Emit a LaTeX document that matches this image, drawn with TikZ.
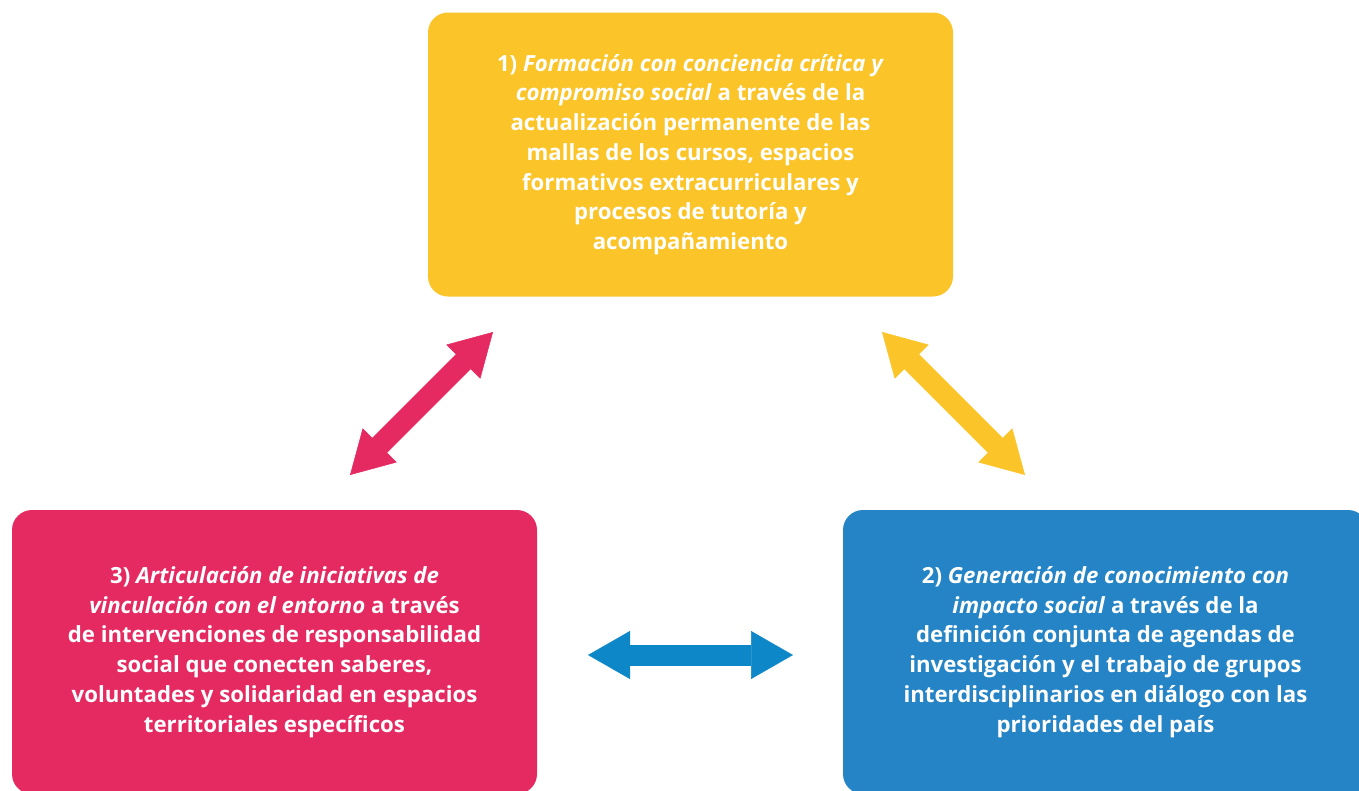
\documentclass[tikz,border=0pt]{standalone}
\usepackage{fontspec}
\setmainfont{Open Sans}
\usetikzlibrary{arrows.meta}
\definecolor{yel}{HTML}{FBC52A}
\definecolor{red}{HTML}{E52A62}
\definecolor{blu}{HTML}{2484C6}
\definecolor{bluarrow}{HTML}{0E87C8}
\tikzset{
  box/.style={rounded corners=20pt, minimum width=525pt, minimum height=284pt,
    text=white, align=center, font=\fontsize{22.2}{29.7}\selectfont\bfseries, inner sep=0pt},
  dbl/.style={line width=21pt,
    {Triangle[length=42pt,width=48pt,line width=0.5pt]}-{Triangle[length=42pt,width=48pt,line width=0.5pt]}}
}
\begin{document}
\begin{tikzpicture}[x=1pt,y=-1pt]
\useasboundingbox (0,0) rectangle (1359,790);
\clip (0,0) rectangle (1359,790);
\node[box, fill=yel] (f) at (690.5,154.5) {1) \textit{Formación con conciencia crítica y}\\
\textit{compromiso social} a través de la\\
actualización permanente de las\\
mallas de los cursos, espacios\\
formativos extracurriculares y\\
procesos de tutoría y\\
acompañamiento};
\node[box, fill=red] (v) at (274.5,652) {3) \textit{Articulación de iniciativas de}\\
\textit{vinculación con el entorno} a través\\
de intervenciones de responsabilidad\\
social que conecten saberes,\\
voluntades y solidaridad en espacios\\
territoriales específicos};
\node[box, fill=blu] (g) at (1105.5,652) {2) \textit{Generación de conocimiento con}\\
\textit{impacto social} a través de la\\
definición conjunta de agendas de\\
investigación y el trabajo de grupos\\
interdisciplinarios en diálogo con las\\
prioridades del país};
\coordinate (r1) at (350,475);
\coordinate (r2) at (493,332);
\coordinate (y1) at (882,332);
\coordinate (y2) at (1025,475);
\coordinate (b1) at (588,655);
\coordinate (b2) at (793,655);
\draw[dbl, red] (r1) -- (r2);
\draw[dbl, yel] (y1) -- (y2);
\draw[dbl, bluarrow] (b1) -- (b2);
\end{tikzpicture}
\end{document}
